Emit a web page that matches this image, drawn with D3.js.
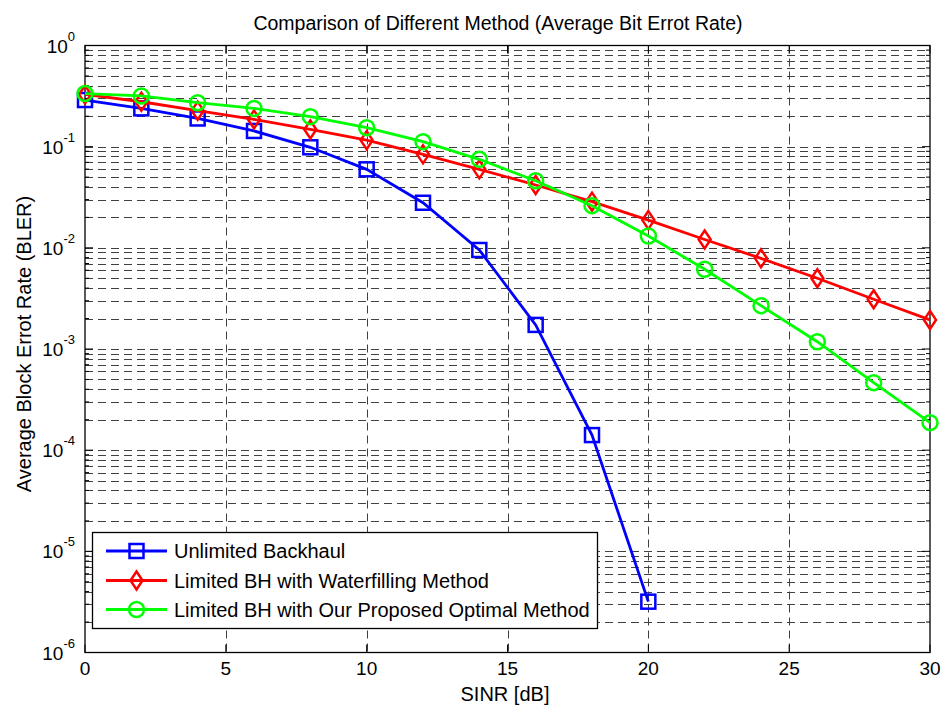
<!DOCTYPE html>
<html><head><meta charset="utf-8">
<script src="https://cdn.jsdelivr.net/npm/d3@7"></script>
<style>body{margin:0;background:#fff}svg{display:block}text{font-family:"Liberation Sans",Arial,sans-serif;fill:#000}</style>
</head><body>
<svg id="c" width="945" height="708"></svg>
<script>
const snr = [0,2,4,6,8,10,12,14,16,18,20,22,24,26,28,30];
const unlimited = [0.289,0.239,0.19,0.143,0.0986,0.0597,0.0279,0.00952,0.00173,0.000141,0.00000318];
const waterfilling = [0.328,0.278,0.227,0.186,0.148,0.116,0.084,0.0597,0.0418,0.0286,0.0188,0.0121,0.00787,0.0050,0.0031,0.00194];
const proposed = [0.335,0.317,0.272,0.239,0.198,0.154,0.112,0.075,0.0461,0.0261,0.0131,0.00614,0.00268,0.00118,0.000465,0.000187];
const seriesNames = ["Unlimited Backhaul","Limited BH with Waterfilling Method","Limited BH with Our Proposed Optimal Method"];
const xTicks = [0,5,10,15,20,25,30];
const yExps = [0,-1,-2,-3,-4,-5,-6];
const titleText = "Comparison of Different Method (Average Bit Errot Rate)";
const xLabel = "SINR [dB]";
const yLabel = "Average Block Errot Rate (BLER)";

const svg = d3.select("#c");
const L=85, R=930, T=45.5, B=652.5;
const x = d3.scaleLinear().domain([0,30]).range([L,R]);
const y = d3.scaleLog().domain([1e-6,1]).range([B,T]);

// grid
const g = svg.append("g");
const minorVals = [];
for (let e=-6;e<0;e++) for (let k=1;k<10;k++) minorVals.push(k*Math.pow(10,e));
minorVals.push(1);
g.selectAll(".hg").data(minorVals.filter(v=>v>1e-6 && v<1)).enter().append("line")
 .attr("x1",L).attr("x2",R).attr("y1",d=>Math.round(y(d))+0.5).attr("y2",d=>Math.round(y(d))+0.5)
 .attr("stroke","#404040").attr("stroke-width",1).attr("stroke-dasharray","8,5");
g.selectAll(".vg").data(xTicks.filter(v=>v>0&&v<30)).enter().append("line")
 .attr("y1",T).attr("y2",B).attr("x1",d=>Math.round(x(d))+0.5).attr("x2",d=>Math.round(x(d))+0.5)
 .attr("stroke","#404040").attr("stroke-width",1).attr("stroke-dasharray","8,5");

// ticks inside
const tk = svg.append("g").attr("stroke","#000").attr("stroke-width",1);
minorVals.forEach(v=>{
  const len = (Math.abs(Math.log10(v)-Math.round(Math.log10(v)))<1e-9)?8:4;
  tk.append("line").attr("x1",L).attr("x2",L+len).attr("y1",y(v)).attr("y2",y(v));
  tk.append("line").attr("x1",R).attr("x2",R-len).attr("y1",y(v)).attr("y2",y(v));
});
xTicks.forEach(v=>{
  tk.append("line").attr("x1",x(v)).attr("x2",x(v)).attr("y1",B).attr("y2",B-8);
  tk.append("line").attr("x1",x(v)).attr("x2",x(v)).attr("y1",T).attr("y2",T+8);
});
svg.append("rect").attr("x",L).attr("y",T).attr("width",R-L).attr("height",B-T)
 .attr("fill","none").attr("stroke","#000").attr("stroke-width",1.3);

// tick labels
xTicks.forEach(v=>{
  svg.append("text").attr("x",x(v)).attr("y",675).attr("text-anchor","middle").attr("font-size",19).text(v);
});
yExps.forEach(e=>{
  const t = svg.append("text").attr("x",75).attr("y",y(Math.pow(10,e))+7).attr("text-anchor","end").attr("font-size",19);
  t.append("tspan").text("10");
  t.append("tspan").attr("dy",-12).attr("font-size",13).text(String(e));
});

// title and labels
svg.append("text").attr("x",498).attr("y",30).attr("text-anchor","middle").attr("font-size",19.5).text(titleText);
svg.append("text").attr("x",505).attr("y",701).attr("text-anchor","middle").attr("font-size",20).text(xLabel);
svg.append("text").attr("transform",`translate(31,344) rotate(-90)`).attr("text-anchor","middle").attr("font-size",20).text(yLabel);

// series
const series = [
  {vals:unlimited,color:"#0000ff",m:"square"},
  {vals:waterfilling,color:"#ff0000",m:"diamond"},
  {vals:proposed,color:"#00ff00",m:"circle"}
];
const line = d3.line().x(d=>x(d[0])).y(d=>y(d[1]));
function marker(sel,type,color){
  if(type==="square") sel.append("rect").attr("x",-7).attr("y",-7).attr("width",14).attr("height",14);
  else if(type==="diamond") sel.append("path").attr("d","M0,-9L6,0L0,9L-6,0Z");
  else sel.append("circle").attr("r",7.5);
  sel.selectAll("*").attr("fill","none").attr("stroke",color).attr("stroke-width",2.5);
}
series.forEach(s=>{
  const pts = s.vals.map((v,i)=>[snr[i],v]);
  svg.append("path").attr("d",line(pts)).attr("fill","none").attr("stroke",s.color).attr("stroke-width",2.8);
  pts.forEach(p=>{
    const gm = svg.append("g").attr("transform",`translate(${x(p[0])},${y(p[1])})`);
    marker(gm,s.m,s.color);
  });
});

// legend
const lg = svg.append("g");
lg.append("rect").attr("x",92.5).attr("y",532.5).attr("width",505).attr("height",96).attr("fill","#fff").attr("stroke","#000").attr("stroke-width",1.3);
const rows = [551,580.5,609.5];
series.forEach((s,i)=>{
  lg.append("line").attr("x1",106).attr("x2",167).attr("y1",rows[i]).attr("y2",rows[i]).attr("stroke",s.color).attr("stroke-width",2.8);
  const gm = lg.append("g").attr("transform",`translate(136.5,${rows[i]})`);
  marker(gm,s.m,s.color);
  lg.append("text").attr("x",174).attr("y",rows[i]+7).attr("font-size",20).text(seriesNames[i]);
});
</script>
</body></html>
